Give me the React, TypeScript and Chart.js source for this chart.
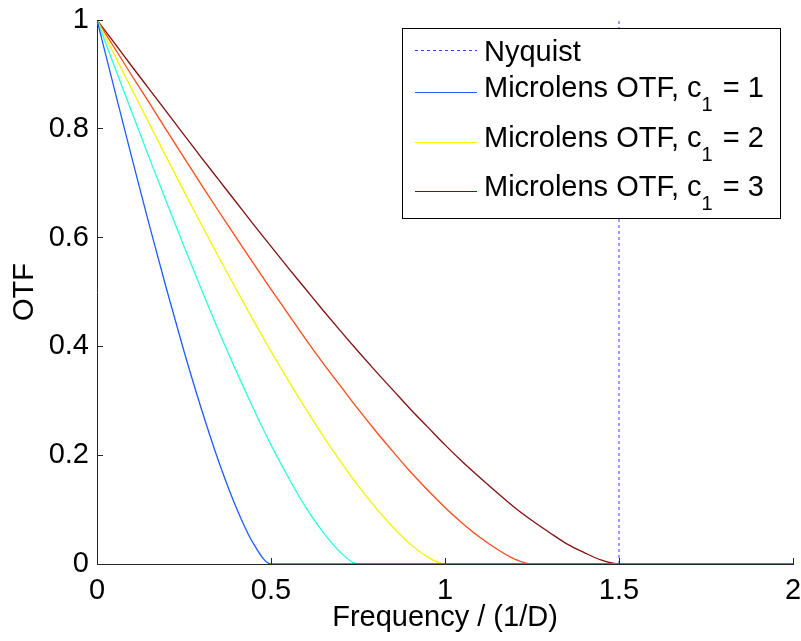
import React, { useEffect, useRef } from "react";
import { Chart, registerables } from "chart.js";

Chart.register(...registerables);

// ---- data ----
const FREQ = [
  0, 0.05, 0.1, 0.15, 0.2, 0.25, 0.3, 0.35, 0.4, 0.45, 0.5, 0.55, 0.6, 0.65, 0.7, 0.75, 0.8, 0.85, 0.9, 0.95,
  1, 1.05, 1.1, 1.15, 1.2, 1.25, 1.3, 1.35, 1.4, 1.45, 1.5, 1.55, 1.6, 1.65, 1.7, 1.75, 1.8, 1.85, 1.9, 1.95, 2,
];

const OTF_BLUE = [
  1, 0.873, 0.747, 0.624, 0.505, 0.391, 0.285, 0.188, 0.104, 0.037, 0, 0, 0, 0, 0, 0, 0, 0, 0, 0,
  0, 0, 0, 0, 0, 0, 0, 0, 0, 0, 0, 0, 0, 0, 0, 0, 0, 0, 0, 0, 0,
];
const OTF_CYAN = [
  1, 0.915, 0.831, 0.747, 0.665, 0.584, 0.505, 0.428, 0.355, 0.285, 0.219, 0.159, 0.104, 0.058, 0.021, 0, 0, 0, 0, 0,
  0, 0, 0, 0, 0, 0, 0, 0, 0, 0, 0, 0, 0, 0, 0, 0, 0, 0, 0, 0, 0,
];
const OTF_YELLOW = [
  1, 0.936, 0.873, 0.81, 0.747, 0.685, 0.624, 0.564, 0.505, 0.447, 0.391, 0.337, 0.285, 0.235, 0.188, 0.144, 0.104, 0.068, 0.037, 0.013,
  0, 0, 0, 0, 0, 0, 0, 0, 0, 0, 0, 0, 0, 0, 0, 0, 0, 0, 0, 0, 0,
];
const OTF_ORANGE = [
  1, 0.949, 0.898, 0.848, 0.797, 0.747, 0.697, 0.648, 0.6, 0.552, 0.505, 0.459, 0.413, 0.369, 0.327, 0.285, 0.245, 0.207, 0.17, 0.136,
  0.104, 0.075, 0.049, 0.027, 0.009, 0, 0, 0, 0, 0, 0, 0, 0, 0, 0, 0, 0, 0, 0, 0, 0,
];
const OTF_DARKRED = [
  1, 0.958, 0.915, 0.873, 0.831, 0.789, 0.747, 0.706, 0.665, 0.624, 0.584, 0.544, 0.505, 0.466, 0.428, 0.391, 0.355, 0.32, 0.285, 0.252,
  0.219, 0.188, 0.159, 0.131, 0.104, 0.08, 0.058, 0.037, 0.021, 0.007, 0, 0, 0, 0, 0, 0, 0, 0, 0, 0, 0,
];

const NYQUIST_X = 1.5;
const X_TICKS = [0, 0.5, 1, 1.5, 2];
const Y_TICKS = [0, 0.2, 0.4, 0.6, 0.8, 1];
const X_TITLE = "Frequency / (1/D)";
const Y_TITLE = "OTF";
const LEGEND_NYQUIST = "Nyquist";
const LEGEND_PREFIX = "Microlens OTF, c";
const LEGEND_SUB = "1";
const LEGEND_C = [1, 2, 3];

// ---- styles ----
const FONT = '"Liberation Sans", Arial, Helvetica, sans-serif';
const C_BLUE = "#1f5cff";
const C_CYAN = "#2affe0";
const C_YELLOW = "#f5f500";
const C_ORANGE = "#ff4a18";
const C_DARKRED = "#801010";
const C_NYQ = "#3a3aff";
const AXIS = "#262626";
const LEGEND_COLORS = [C_BLUE, C_YELLOW, C_DARKRED];

const toPts = (ys: number[]) => FREQ.map((x, i) => ({ x, y: ys[i] }));

const matlabPlugin = {
  id: "matlabDecor",
  afterDatasetsDraw(chart: any) {
    const { ctx, chartArea, scales } = chart;
    const xs = scales.x;
    const ys = scales.y;
    ctx.save();
    ctx.strokeStyle = AXIS;
    ctx.lineWidth = 1;
    ctx.beginPath();
    for (const v of X_TICKS) {
      const px = Math.floor(xs.getPixelForValue(v)) + 0.5;
      ctx.moveTo(px, chartArea.bottom);
      ctx.lineTo(px, chartArea.bottom - 6);
    }
    for (const v of Y_TICKS) {
      const py = Math.floor(ys.getPixelForValue(v)) + 0.5;
      ctx.moveTo(chartArea.left, py);
      ctx.lineTo(chartArea.left + 6, py);
    }
    ctx.stroke();
    ctx.restore();
  },
  afterDraw(chart: any) {
    const { ctx } = chart;
    ctx.save();
    const bx = 402.5, by = 28.5, bw = 378, bh = 190;
    ctx.fillStyle = "#ffffff";
    ctx.fillRect(bx, by, bw, bh);
    ctx.strokeStyle = "#000000";
    ctx.lineWidth = 1;
    ctx.strokeRect(bx, by, bw, bh);

    const lx0 = 415, lx1 = 477, tx = 484;
    ctx.textBaseline = "alphabetic";
    ctx.textAlign = "left";
    ctx.fillStyle = "#000000";

    ctx.save();
    ctx.strokeStyle = C_NYQ;
    ctx.setLineDash([3, 3]);
    ctx.beginPath();
    ctx.moveTo(lx0, 50.5);
    ctx.lineTo(lx1, 50.5);
    ctx.stroke();
    ctx.restore();
    ctx.font = `29px ${FONT}`;
    ctx.fillText(LEGEND_NYQUIST, tx, 61);

    const rowLines = [92.5, 142.5, 191.5];
    LEGEND_C.forEach((c, i) => {
      const ly = rowLines[i];
      ctx.strokeStyle = LEGEND_COLORS[i];
      ctx.beginPath();
      ctx.moveTo(lx0, ly);
      ctx.lineTo(lx1, ly);
      ctx.stroke();
      const base = ly + 4.5;
      ctx.font = `29px ${FONT}`;
      ctx.fillText(LEGEND_PREFIX, tx, base);
      let x = tx + ctx.measureText(LEGEND_PREFIX).width;
      ctx.font = `20px ${FONT}`;
      ctx.fillText(LEGEND_SUB, x, base + 13.5);
      x += ctx.measureText(LEGEND_SUB).width;
      ctx.font = `29px ${FONT}`;
      ctx.fillText(` = ${c}`, x + 2, base);
    });
    ctx.restore();
  },
};

export default function App() {
  const ref = useRef<HTMLCanvasElement | null>(null);

  useEffect(() => {
    document.body.style.margin = "0";
    const canvas = ref.current;
    if (!canvas) return;
    const lineDs = (data: number[], color: string) => ({
      data: toPts(data),
      borderColor: color,
      backgroundColor: color,
      borderWidth: 1.3,
      pointRadius: 0,
      cubicInterpolationMode: "monotone" as const,
      fill: false,
    });
    const zeroPad = (s: any) => {
      s.paddingLeft = 0;
      s.paddingRight = 0;
      s.paddingTop = 0;
      s.paddingBottom = 0;
    };
    const chart = new Chart(canvas, {
      type: "line",
      data: {
        datasets: [
          {
            data: [
              { x: NYQUIST_X, y: 0 },
              { x: NYQUIST_X, y: 1 },
            ],
            borderColor: C_NYQ,
            backgroundColor: C_NYQ,
            borderWidth: 1,
            borderDash: [3, 3],
            pointRadius: 0,
            fill: false,
          },
          lineDs(OTF_BLUE, C_BLUE),
          lineDs(OTF_CYAN, C_CYAN),
          lineDs(OTF_YELLOW, C_YELLOW),
          lineDs(OTF_ORANGE, C_ORANGE),
          lineDs(OTF_DARKRED, C_DARKRED),
        ],
      },
      options: {
        responsive: false,
        maintainAspectRatio: false,
        devicePixelRatio: 1,
        animation: false,
        layout: { padding: { top: 20, right: 8, left: 0, bottom: 0 } },
        plugins: {
          legend: { display: false },
          tooltip: { enabled: false },
        },
        scales: {
          x: {
            type: "linear",
            min: 0,
            max: 2,
            afterBuildTicks: (s: any) => {
              s.ticks = X_TICKS.map((v) => ({ value: v }));
            },
            afterFit: (s: any) => {
              s.height = 77;
              zeroPad(s);
            },
            grid: { display: true, drawOnChartArea: false, drawTicks: false },
            border: { display: true, color: AXIS, width: 1 },
            ticks: {
              padding: 10,
              color: "#000",
              font: { family: FONT, size: 29 },
              maxRotation: 0,
              callback: (v: any) => String(v),
            },
            title: {
              display: true,
              text: X_TITLE,
              color: "#000",
              font: { family: FONT, size: 29 },
              padding: { top: 0, bottom: 6 },
            },
          },
          y: {
            type: "linear",
            min: 0,
            max: 1,
            afterBuildTicks: (s: any) => {
              s.ticks = Y_TICKS.map((v) => ({ value: v }));
            },
            afterFit: (s: any) => {
              s.width = 97;
              zeroPad(s);
            },
            grid: { display: true, drawOnChartArea: false, drawTicks: false },
            border: { display: true, color: AXIS, width: 1 },
            ticks: {
              padding: 8,
              color: "#000",
              font: { family: FONT, size: 29 },
              callback: (v: any) => String(v),
            },
            title: {
              display: true,
              text: Y_TITLE,
              color: "#000",
              font: { family: FONT, size: 29 },
              padding: { top: 8, bottom: 0 },
            },
          },
        },
      },
      plugins: [matlabPlugin],
    });
    return () => chart.destroy();
  }, []);

  return (
    <div style={{ width: 801, height: 641 }}>
      <canvas ref={ref} width={801} height={641} style={{ display: "block" }} />
    </div>
  );
}
